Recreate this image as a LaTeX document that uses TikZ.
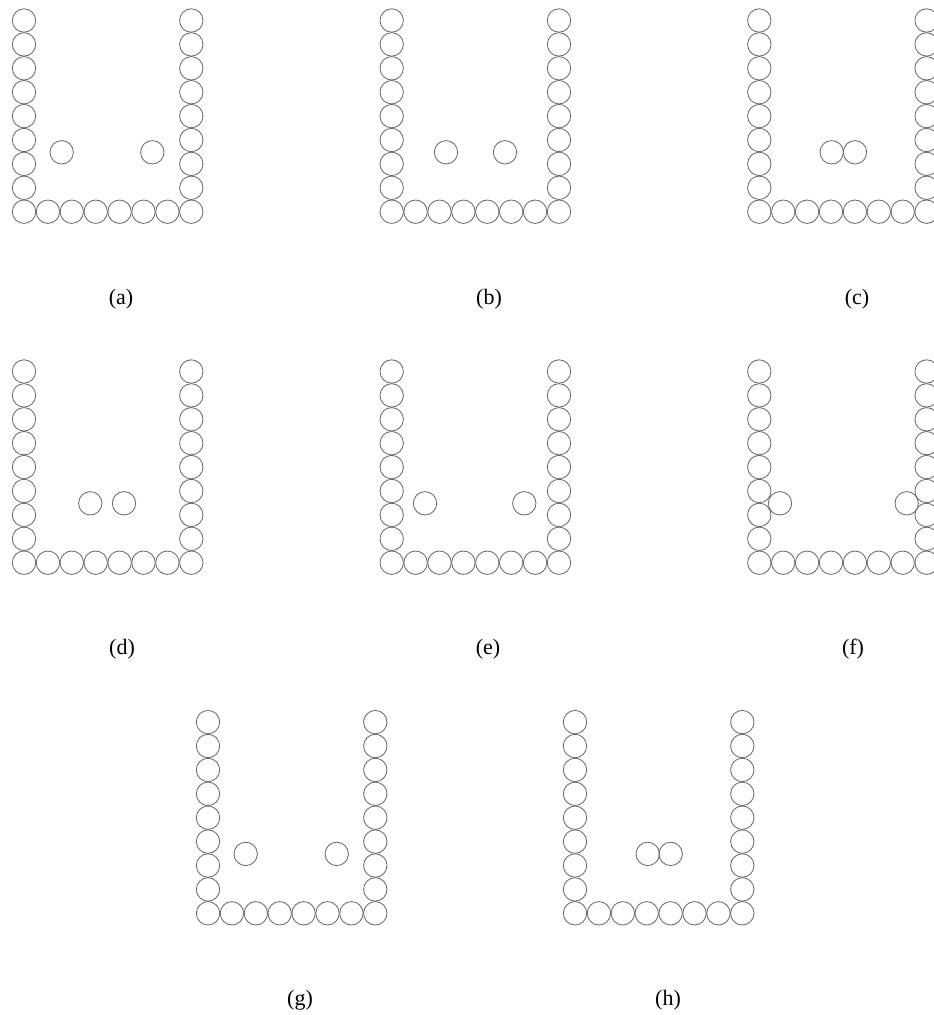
\documentclass[tikz,border=0pt]{standalone}
\usepackage{fontspec}
\setmainfont{Liberation Serif}
\tikzset{
  ball/.style={draw=black!58, line width=0.85pt},
  sublabel/.style={font=\fontsize{22}{26}\selectfont, inner sep=0pt, anchor=center}
}
\newcommand{\wellpanel}[4]{% #1 ox, #2 oy (bottom-left ball), #3 dx1, #4 dx2
  \foreach \i in {0,...,8} {
    \draw[ball] (#1,#2-\i*23.9) circle[radius=11.7pt];
    \draw[ball] (#1+7*23.9,#2-\i*23.9) circle[radius=11.7pt];
  }
  \foreach \i in {1,...,6} {
    \draw[ball] (#1+\i*23.9,#2) circle[radius=11.7pt];
  }
  \draw[ball] (#1+#3,#2-59.4) circle[radius=11.7pt];
  \draw[ball] (#1+#4,#2-59.4) circle[radius=11.7pt];
}
\begin{document}
\begin{tikzpicture}[x=1pt,y=-1pt]
  \useasboundingbox (0,0) rectangle (934,1015);
  \clip (0,0) rectangle (934,1015);
  % row 1
  \wellpanel{24}{211.7}{37.7}{128.3}
  \wellpanel{391.7}{211.7}{54.3}{113.3}
  \wellpanel{759.3}{211.7}{72.4}{95.7}
  % row 2
  \wellpanel{24}{562.7}{66.3}{100}
  \wellpanel{391.7}{562.7}{33.3}{132.6}
  \wellpanel{759.3}{562.7}{20.7}{147.4}
  % row 3
  \wellpanel{208}{913.3}{37.7}{128.7}
  \wellpanel{575}{913.3}{72.7}{95.7}
  % labels
  \node[sublabel] (la) at (121,299) {(a)};
  \node[sublabel] (lb) at (489,299) {(b)};
  \node[sublabel] (lc) at (857,299) {(c)};
  \node[sublabel] (ld) at (122,649) {(d)};
  \node[sublabel] (le) at (488,649) {(e)};
  \node[sublabel] (lf) at (853,649) {(f)};
  \node[sublabel] (lg) at (300,1000) {(g)};
  \node[sublabel] (lh) at (668,1000) {(h)};
\end{tikzpicture}
\end{document}
